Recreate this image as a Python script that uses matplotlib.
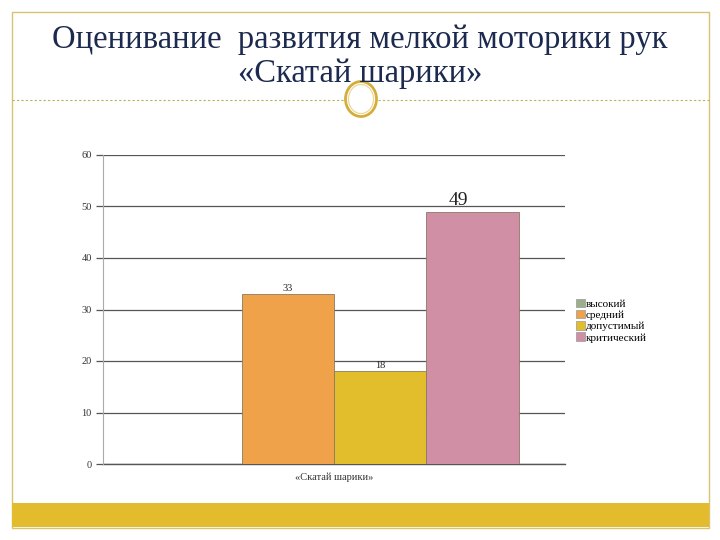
import matplotlib.pyplot as plt
import matplotlib.patches as mpatches
import numpy as np

categories = ["«Скатай шарики»"]
series_names = ["высокий", "средний", "допустимый", "критический"]
series_values = [0, 33, 18, 49]
series_colors = ["#9caf88", "#f0a24a", "#e2bd2c", "#d08fa5"]
yticks = [0, 10, 20, 30, 40, 50, 60]
title_lines = ["Оценивание  развития мелкой моторики рук", "«Скатай шарики»"]

plt.rcParams['font.family'] = ['Liberation Serif', 'DejaVu Serif']

fig = plt.figure(figsize=(7.2, 5.4), dpi=100)
W, H = 720, 540

def fx(x):
    return x / W

def fy(y):
    return 1 - y / H

# frame
fig.patches.append(mpatches.Rectangle((fx(12), fy(528)), fx(709) - fx(12), fy(12) - fy(528),
                                      transform=fig.transFigure, fill=False,
                                      edgecolor="#d9c270", linewidth=1.0))
# bottom gold bar
fig.patches.append(mpatches.Rectangle((fx(12), fy(527)), fx(709) - fx(12), fy(503) - fy(527),
                                      transform=fig.transFigure, facecolor="#e2bc2c",
                                      edgecolor="none"))
# dashed line
fig.add_artist(plt.Line2D([fx(12), fx(344)], [fy(100), fy(100)], transform=fig.transFigure,
                          color="#b8b45a", linestyle=(0, (2, 2)), linewidth=0.8))
fig.add_artist(plt.Line2D([fx(378), fx(709)], [fy(100), fy(100)], transform=fig.transFigure,
                          color="#b8b45a", linestyle=(0, (2, 2)), linewidth=0.8))
# circle ornament
fig.patches.append(mpatches.Ellipse((fx(361), fy(99)), 31 / W, 35 / H, transform=fig.transFigure,
                                    fill=False, edgecolor="#d4ad3c", linewidth=2.0))
fig.patches.append(mpatches.Ellipse((fx(361), fy(99)), 25 / W, 29 / H, transform=fig.transFigure,
                                    fill=False, edgecolor="#e8d590", linewidth=0.8))

fig.text(0.5, fy(40), title_lines[0], ha="center", va="center", fontsize=23.5, color="#1b2a4e")
fig.text(0.5, fy(74), title_lines[1], ha="center", va="center", fontsize=23.5, color="#1b2a4e")

ax = fig.add_axes([fx(103), fy(464), fx(565) - fx(103), fy(155) - fy(464)])
n = len(series_values)
group_w = 0.8
bw = group_w / n
x0 = 0
for i, (name, v, c) in enumerate(zip(series_names, series_values, series_colors)):
    xpos = x0 - group_w / 2 + bw * (i + 0.5)
    ax.bar(xpos, v, width=bw, color=c, edgecolor="#8a7a60", linewidth=0.6, label=name, zorder=3)
    if v > 0:
        if v == max(series_values):
            ax.text(xpos - bw * 0.15, v + 0.5, str(v), ha="center", va="bottom", fontsize=14, color="#222222")
        else:
            ax.text(xpos, v + 0.2, str(v), ha="center", va="bottom", fontsize=7.5, color="#222222")

ax.set_xlim(-0.5, 0.5)
ax.set_ylim(0, 60)
ax.set_yticks(yticks)
ax.set_yticklabels([str(t) for t in yticks], fontsize=7.5, color="#333333")
ax.yaxis.grid(True, color="#555555", linewidth=0.9, zorder=0)
ax.axhline(0, color="#555555", linewidth=1.0, clip_on=False, zorder=2)
ax.set_xticks([0])
ax.set_xticklabels(categories, fontsize=7.5, color="#333333")
ax.tick_params(axis="x", length=0, pad=6)
ax.tick_params(axis="y", length=5, width=0.9, color="#555555", pad=3)
for s in ["top", "right", "bottom"]:
    ax.spines[s].set_visible(False)
ax.spines["left"].set_color("#aaaaaa")
ax.spines["left"].set_linewidth(0.8)
ax.set_axisbelow(True)

handles = [mpatches.Patch(facecolor=c, edgecolor="#999999", linewidth=0.5, label=nm)
           for nm, c in zip(series_names, series_colors)]
fig.legend(handles=handles, loc="upper left", bbox_to_anchor=(fx(568), fy(291)),
           frameon=False, fontsize=8, handlelength=0.8, handleheight=0.8,
           handletextpad=0.1, labelspacing=0.1, borderpad=0.2)

fig.savefig("out.png", dpi=100)
